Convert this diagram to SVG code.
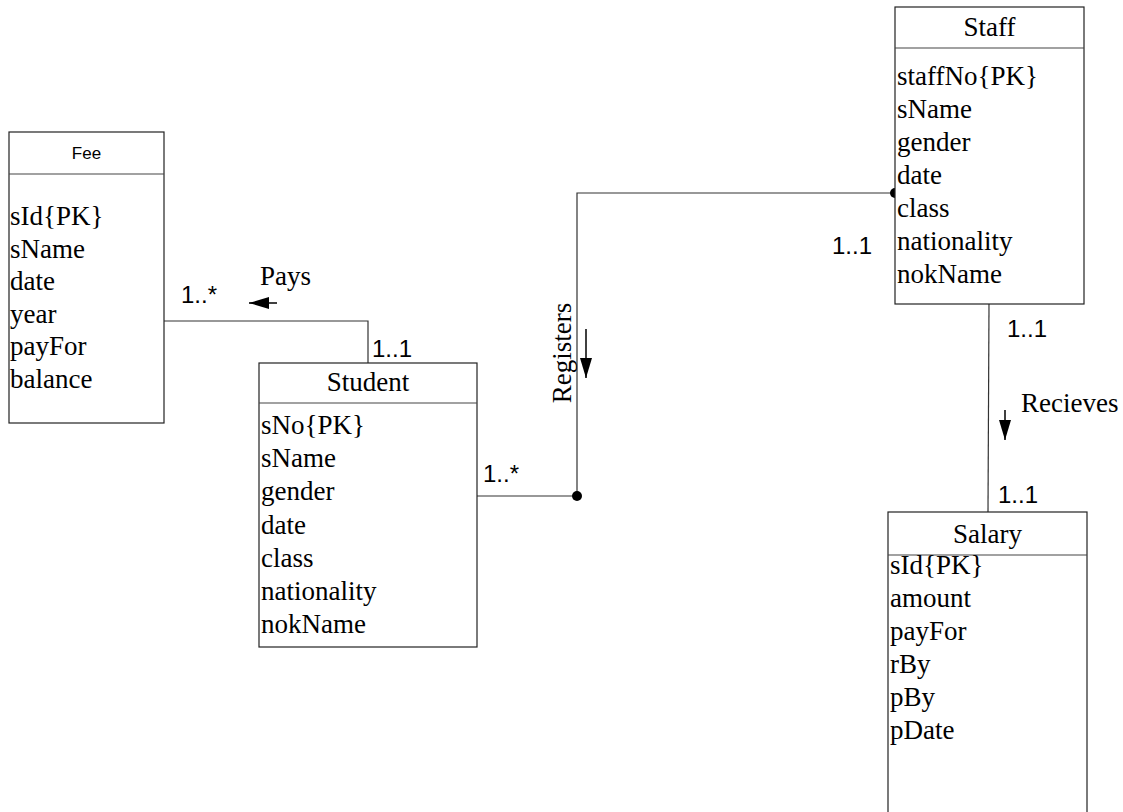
<svg xmlns="http://www.w3.org/2000/svg" width="1123" height="812" viewBox="0 0 1123 812">
<defs>
<style>
.box{fill:#fff;stroke:#222;stroke-width:1.2}
.hdr{stroke:#444;stroke-width:1.2}
.ser{font-family:"Liberation Serif","Times New Roman",serif;font-size:27px;fill:#000}
.ttl{font-family:"Liberation Serif","Times New Roman",serif;font-size:27px;fill:#000;text-anchor:middle}
.sans{font-family:"Liberation Sans",Arial,sans-serif;font-size:24px;fill:#000}
.conn{fill:none;stroke:#333;stroke-width:1.2}
.arr{stroke:#000;stroke-width:1.5;marker-end:url(#ah)}
.dot{fill:#000}
</style>
<marker id="ah" viewBox="0 0 20 12" markerWidth="20" markerHeight="12" markerUnits="userSpaceOnUse" refX="20" refY="6" orient="auto">
<path d="M0,0 L20,6 L0,12 z" fill="#000"/>
</marker>
</defs>
<rect width="1123" height="812" fill="#fff"/>

<g id="connectors">
<polyline class="conn" points="164,321 368,321 368,363"/>
<polyline class="conn" points="477,496 577,496 577,193 895,193"/>
<line class="conn" x1="989" y1="304" x2="988" y2="512"/>
<circle class="dot" cx="577" cy="496" r="5"/>
<circle class="dot" cx="895" cy="193" r="5"/>
<line class="arr" x1="277" y1="303" x2="249" y2="303"/>
<line class="arr" x1="586" y1="329" x2="586" y2="378"/>
<line class="arr" x1="1005" y1="410" x2="1005" y2="440"/>
<text class="ser" x="260" y="285">Pays</text>
<text class="sans" x="181" y="303">1..*</text>
<text class="sans" x="372" y="357">1..1</text>
<text class="ser" x="571" y="353" text-anchor="middle" transform="rotate(-90 571 353)">Registers</text>
<text class="sans" x="483" y="482">1..*</text>
<text class="sans" x="832" y="254">1..1</text>
<text class="sans" x="1007" y="337">1..1</text>
<text class="ser" x="1021" y="412">Recieves</text>
<text class="sans" x="998" y="503">1..1</text>
</g>

<g id="fee">
<rect class="box" x="9" y="132" width="155" height="291"/>
<line class="hdr" x1="9" y1="174" x2="164" y2="174"/>
<text x="86.5" y="159" text-anchor="middle" style="font-family:'Liberation Sans',Arial,sans-serif;font-size:17px">Fee</text>
<text class="ser" x="10" y="225">sId{PK}</text>
<text class="ser" x="10" y="257.6">sName</text>
<text class="ser" x="10" y="290.2">date</text>
<text class="ser" x="10" y="322.8">year</text>
<text class="ser" x="10" y="355.4">payFor</text>
<text class="ser" x="10" y="388">balance</text>
</g>

<g id="student">
<rect class="box" x="259" y="363" width="218" height="284"/>
<line class="hdr" x1="259" y1="403" x2="477" y2="403"/>
<text class="ttl" x="368" y="391">Student</text>
<text class="ser" x="261" y="434">sNo{PK}</text>
<text class="ser" x="261" y="467">sName</text>
<text class="ser" x="261" y="500">gender</text>
<text class="ser" x="261" y="534">date</text>
<text class="ser" x="261" y="567">class</text>
<text class="ser" x="261" y="600">nationality</text>
<text class="ser" x="261" y="633">nokName</text>
</g>

<g id="staff">
<rect class="box" x="895" y="7" width="189" height="297"/>
<line class="hdr" x1="895" y1="48" x2="1084" y2="48"/>
<text class="ttl" x="989.5" y="36">Staff</text>
<text class="ser" x="897" y="85">staffNo{PK}</text>
<text class="ser" x="897" y="118">sName</text>
<text class="ser" x="897" y="151">gender</text>
<text class="ser" x="897" y="184">date</text>
<text class="ser" x="897" y="217">class</text>
<text class="ser" x="897" y="250">nationality</text>
<text class="ser" x="897" y="283">nokName</text>
</g>

<g id="salary">
<rect class="box" x="888" y="512" width="199" height="310"/>
<line class="hdr" x1="888" y1="555" x2="1087" y2="555"/>
<text class="ttl" x="987.5" y="543">Salary</text>
<text class="ser" x="890" y="574">sId{PK}</text>
<text class="ser" x="890" y="607">amount</text>
<text class="ser" x="890" y="640">payFor</text>
<text class="ser" x="890" y="673">rBy</text>
<text class="ser" x="890" y="706">pBy</text>
<text class="ser" x="890" y="739">pDate</text>
</g>
</svg>
